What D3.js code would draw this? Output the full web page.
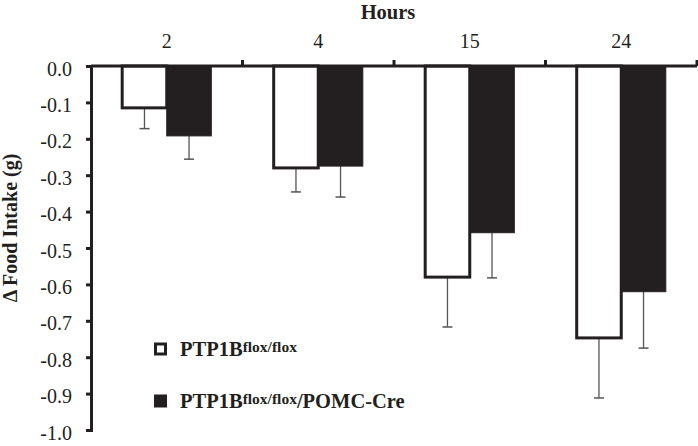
<!DOCTYPE html>
<html><head><meta charset="utf-8">
<script src="https://cdn.jsdelivr.net/npm/d3@7"></script>
<style>body{margin:0;background:#fff}svg{display:block}</style>
</head><body><svg id="c" width="698" height="446"></svg>
<script>
const categories = ["2","4","15","24"];
const seriesNames = ["PTP1B flox/flox","PTP1B flox/flox/POMC-Cre"];
const controlMeans = [-0.115,-0.28,-0.58,-0.747];
const controlErr   = [0.057,0.066,0.137,0.165];
const creMeans     = [-0.192,-0.275,-0.458,-0.62];
const creErr       = [0.064,0.085,0.124,0.155];
const yTicks = [0,-0.1,-0.2,-0.3,-0.4,-0.5,-0.6,-0.7,-0.8,-0.9,-1.0];

const ink = "#231f20";
const FONT = "'Liberation Serif','Times New Roman',Times,serif";
const svg = d3.select("#c");
const m = {left:91, right:697, top:66, bottom:430};
const y = d3.scaleLinear().domain([0,-1]).range([m.top,m.bottom]);
const x0 = d3.scaleBand().domain(categories).range([m.left,m.right]).padding(0);
const x1 = d3.scaleBand().domain([0,1]).range([0,x0.bandwidth()]).paddingInner(0).paddingOuter(0.7);

const data = categories.map((c,i)=>[
  {c, s:0, v:controlMeans[i], e:controlErr[i]},
  {c, s:1, v:creMeans[i], e:creErr[i]}
]).flat();

const g = svg.append("g");
data.forEach(d=>{
  const cx = x0(d.c)+x1(d.s)+x1.bandwidth()/2;
  g.append("line").attr("x1",cx).attr("x2",cx).attr("y1",y(d.v)).attr("y2",y(d.v-d.e))
    .attr("stroke","#555").attr("stroke-width",1.3);
  g.append("line").attr("x1",cx-5).attr("x2",cx+5).attr("y1",y(d.v-d.e)).attr("y2",y(d.v-d.e))
    .attr("stroke","#555").attr("stroke-width",1.5);
});
g.selectAll("rect.bar").data(data).enter().append("rect")
  .attr("x",d=>x0(d.c)+x1(d.s))
  .attr("y",y(0))
  .attr("width",x1.bandwidth())
  .attr("height",d=>y(d.v)-y(0))
  .attr("fill",d=>d.s===0?"#fff":ink)
  .attr("stroke",ink).attr("stroke-width",d=>d.s===0?3:1);

const fmt = d=>d3.format(".1f")(d).replace("\u2212","-");
const ya = svg.append("g").attr("transform",`translate(${m.left},0)`)
  .call(d3.axisLeft(y).tickValues(yTicks).tickSize(5).tickPadding(14).tickFormat(fmt));
ya.select(".domain").attr("stroke",ink).attr("stroke-width",3);
ya.selectAll(".tick line").attr("stroke",ink).attr("stroke-width",3);
ya.selectAll(".tick text").attr("font-size",20).style("font-family",FONT).attr("fill",ink).attr("dy","0.45em");

const xb = svg.append("g").attr("transform",`translate(0,${m.top})`);
xb.append("line").attr("x1",m.left).attr("x2",m.right).attr("stroke",ink).attr("stroke-width",3);
const bounds = categories.map(c=>x0(c)+x0.bandwidth());
xb.selectAll("line.t").data(bounds).enter().append("line")
  .attr("x1",d=>d).attr("x2",d=>d).attr("y1",0).attr("y2",-6).attr("stroke",ink).attr("stroke-width",3);
xb.selectAll("text.c").data(categories).enter().append("text")
  .attr("x",d=>x0(d)+x0.bandwidth()/2).attr("y",-18).attr("text-anchor","middle")
  .attr("font-size",20).style("font-family",FONT).attr("fill",ink).text(d=>d);

svg.append("text").attr("x",388).attr("y",19).attr("text-anchor","middle")
  .attr("font-size",20.5).attr("font-weight","bold").style("font-family",FONT).attr("fill",ink).text("Hours");

svg.append("text").attr("transform","translate(17,228) rotate(-90)").attr("text-anchor","middle")
  .attr("font-size",20).attr("font-weight","bold").style("font-family",FONT).attr("fill",ink).text("Δ Food Intake (g)");

const leg = [{fill:"#fff", y:356, tail:""},{fill:ink, y:408, tail:"/POMC-Cre"}];
leg.forEach((l,i)=>{
  svg.append("rect").attr("x",155.5).attr("y",l.y-12).attr("width",10).attr("height",10)
    .attr("fill",l.fill).attr("stroke",ink).attr("stroke-width",3);
  const t = svg.append("text").attr("x",180).attr("y",l.y).attr("font-size",20.5).attr("font-weight","bold")
    .style("font-family",FONT).attr("fill",ink);
  t.append("tspan").text("PTP1B");
  t.append("tspan").attr("font-size",15.5).attr("dy",-4).text("flox/flox");
  if(l.tail) t.append("tspan").attr("dy",4).text(l.tail);
});
</script></body></html>
